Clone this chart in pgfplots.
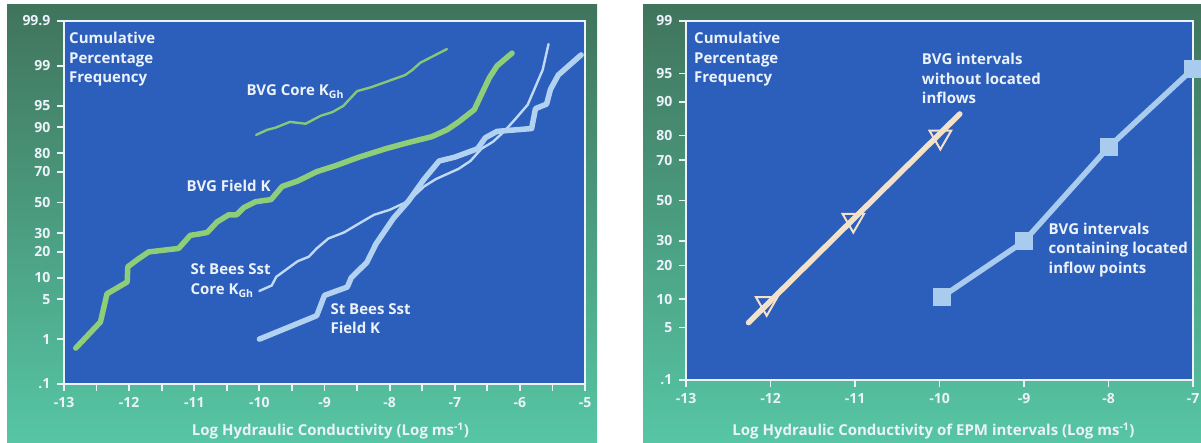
\documentclass[border=0pt]{standalone}
\usepackage{fontspec}
\setmainfont{Open Sans}
\usepackage{pgfplots}
\pgfplotsset{compat=1.18}
\usepackage{pgfplotstable}

\definecolor{bgblue}{RGB}{44,94,188}
\definecolor{txt}{RGB}{236,242,250}
\definecolor{gthick}{RGB}{143,206,120}
\definecolor{gthin}{RGB}{134,200,120}
\definecolor{bthin}{RGB}{192,218,244}
\definecolor{bthick}{RGB}{178,210,242}
\definecolor{cream}{RGB}{243,226,201}
\definecolor{sq}{RGB}{168,203,238}
\definecolor{gtop}{RGB}{64,116,92}
\definecolor{gmid}{RGB}{68,158,126}
\definecolor{gbot}{RGB}{86,198,164}

% cumulative percentage data (x = log K, p = percent)
\pgfplotstableread{
x p
-12.82 0.66
-12.44 2.1
-12.34 6.0
-12.03 8.8
-12.02 13.7
-11.88 16.4
-11.70 20.0
-11.24 21.7
-11.06 28.8
-10.94 29.5
-10.80 30.5
-10.65 37.0
-10.47 41.7
-10.35 41.7
-10.24 46.5
-10.06 50.5
-9.82 52.0
-9.65 60.8
-9.41 64.3
-9.12 70.0
-8.82 73.6
-8.47 78.0
-8.06 82.0
-7.76 84.3
-7.35 86.9
-7.12 89.2
-6.94 91.5
-6.70 94.3
-6.47 98.3
-6.35 99.0
-6.12 99.45
}\bvgfield

\pgfplotstableread{
x p
-10.05 87.5
-9.88 89.2
-9.76 89.8
-9.53 91.5
-9.29 91.0
-9.06 93.0
-8.88 93.8
-8.71 95.0
-8.50 97.1
-8.29 97.5
-7.76 98.5
-7.65 98.8
-7.53 99.13
-7.12 99.55
}\bvgcore

\pgfplotstableread{
x p
-10.00 6.6
-9.81 7.9
-9.74 10.3
-9.41 15.9
-9.24 17.8
-9.12 21.7
-8.94 27.0
-8.70 30.5
-8.47 36.0
-8.24 41.7
-8.00 45.0
-7.71 51.0
-7.47 60.8
-7.29 65.5
-6.94 71.7
-6.76 76.0
-6.59 82.0
-6.41 85.0
-6.24 88.7
-6.06 92.4
-5.88 95.2
-5.65 98.8
-5.56 99.65
}\sbcore

\pgfplotstableread{
x p
-10.00 1.0
-9.12 2.7
-9.00 5.7
-8.65 7.5
-8.59 10.0
-8.35 15.4
-8.21 24.0
-7.94 39.5
-7.71 51.0
-7.47 65.5
-7.24 76.0
-7.00 78.0
-6.65 82.0
-6.53 86.5
-6.35 88.7
-5.82 89.6
-5.76 94.5
-5.59 95.3
-5.53 97.3
-5.41 98.5
-5.06 99.4
}\sbfield

\pgfplotstableread{
x p
-12.26 5.67
-9.76 86.9
}\creamline

\pgfplotstableread{
x p
-12.045 9.15
-11.02 40.0
-9.99 79.5
}\tri

\pgfplotstableread{
x p
-9.97 10.6
-9.00 29.8
-8.00 75.5
-7.00 95.6
}\squares

\pgfplotsset{
  panel/.style={
    scale only axis, anchor=south west,
    axis background/.style={fill=bgblue},
    axis line style={txt, line width=1.8pt},
    tick style={txt, line width=1.8pt},
    tick align=outside, tick pos=left,
    major tick length=7pt, minor tick length=7pt,
    tick label style={font=\fontsize{14}{14}\selectfont\bfseries, text=txt},
    xticklabel style={yshift=-3pt},
    yticklabel style={xshift=-3pt},
    clip mode=individual,
  },
}
\tikzset{
  lab/.style={font=\fontsize{15}{19.5}\selectfont\bfseries, text=txt, align=left, inner sep=0pt},
}

\begin{document}
\begin{tikzpicture}[
  declare function={
    pq(\p)=min(\p/100,1-\p/100);
    pt(\p)=sqrt(-2*ln(pq(\p)));
    pz(\p)=pt(\p)-(2.515517+0.802853*pt(\p)+0.010328*pt(\p)*pt(\p))/(1+1.432788*pt(\p)+0.189269*pt(\p)*pt(\p)+0.001308*pt(\p)*pt(\p)*pt(\p));
    probit(\p)=ifthenelse(\p<50,-pz(\p),pz(\p));
  }]
\useasboundingbox (0pt,0pt) rectangle (1201pt,442pt);
\fill[white] (0pt,0pt) rectangle (1201pt,442pt);
\shade[top color=gtop, middle color=gmid, bottom color=gbot] (7pt,0pt) rectangle (597pt,437pt);
\shade[top color=gtop, middle color=gmid, bottom color=gbot] (643pt,0pt) rectangle (1201pt,437pt);

% ---------- left panel ----------
\begin{axis}[panel, at={(64pt,58pt)}, width=521pt, height=363pt,
  xmin=-13, xmax=-5, ymin=-3.0902, ymax=3.0902,
  xtick={-13,-12,-11,-10,-9,-8,-7,-6,-5},
  xticklabels={-13,-12,-11,-10,-9,-8,-7,-6,-5},
  minor xtick={-12.5,-11.5,-10.5,-9.5,-8.5,-7.5,-6.5,-5.5},
  ytick={-3.0902,-2.3263,-1.6449,-1.2816,-0.8416,-0.5244,0,0.5244,0.8416,1.2816,1.6449,2.3263,3.0902},
  yticklabels={.1,1,5,10,20,30,50,70,80,90,95,99,99.9},
]
\addplot[gthin, line width=2.4pt, line join=round, line cap=round] table[x=x, y expr={probit(\thisrow{p})}] {\bvgcore};
\addplot[gthick, line width=5.5pt, line join=round, line cap=round] table[x=x, y expr={probit(\thisrow{p})}] {\bvgfield};
\addplot[bthin, line width=2.4pt, line join=round, line cap=round] table[x=x, y expr={probit(\thisrow{p})}] {\sbcore};
\addplot[bthick, line width=5.5pt, line join=round, line cap=round] table[x=x, y expr={probit(\thisrow{p})}] {\sbfield};

\node[lab, anchor=north west] at (rel axis cs:0,1) [xshift=5pt, yshift=-11pt] {Cumulative\\Percentage\\Frequency};
\node[lab, anchor=west] at (axis cs:-10.2,1.893) {BVG Core K\textsubscript{Gh}};
\node[lab, anchor=west] at (axis cs:-11.12,0.275) {BVG Field K};
\node[lab, anchor=west] at (axis cs:-11.06,-1.327) {St Bees Sst\\Core K\textsubscript{Gh}};
\node[lab, anchor=west] at (axis cs:-8.91,-1.980) {St Bees Sst\\Field K};
\node[lab, anchor=center] at (rel axis cs:0.5,0) [xshift=6pt, yshift=-47pt] {Log Hydraulic Conductivity (Log ms\textsuperscript{-1})};
\end{axis}

% ---------- right panel ----------
\begin{axis}[panel, at={(686pt,62pt)}, width=507pt, height=359pt,
  xmin=-13, xmax=-7, ymin=-2.3263, ymax=2.3263,
  xtick={-13,-12,-11,-10,-9,-8,-7},
  xticklabels={-13,-12,-11,-10,-9,-8,-7},
  ytick={-2.3263,-1.6449,-1.2816,-0.8416,-0.5244,0,0.5244,0.8416,1.2816,1.6449,2.3263},
  yticklabels={.1,5,10,20,30,50,70,80,90,95,99},
  clip=false,
]
\addplot[cream, line width=5.5pt, line cap=round] table[x=x, y expr={probit(\thisrow{p})}] {\creamline};
\addplot[only marks, mark=triangle, mark size=12.5pt, mark options={draw=cream, fill=none, line width=2pt, rotate=180}] table[x=x, y expr={probit(\thisrow{p})}] {\tri};
\addplot[sq, line width=5.5pt, mark=square*, mark size=8.5pt, mark options={fill=sq, draw=sq, line width=0pt}] table[x=x, y expr={probit(\thisrow{p})}] {\squares};

\node[lab, anchor=north west] at (rel axis cs:0,1) [xshift=8pt, yshift=-11pt] {Cumulative\\Percentage\\Frequency};
\node[lab, anchor=west] at (axis cs:-10.21,1.58) {BVG intervals\\without located\\inflows};
\node[lab, anchor=west] at (axis cs:-8.71,-0.641) {BVG intervals\\containing located\\inflow points};
\node[lab, anchor=center] at (rel axis cs:0.5,0) [xshift=-6pt, yshift=-51pt] {Log Hydraulic Conductivity of EPM intervals (Log ms\textsuperscript{-1})};
\end{axis}
\end{tikzpicture}
\end{document}
